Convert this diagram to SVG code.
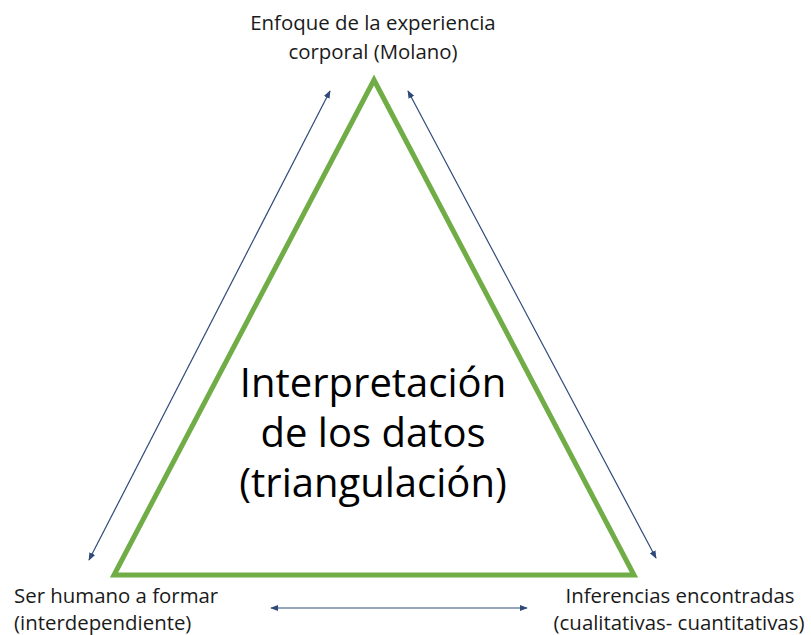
<svg xmlns="http://www.w3.org/2000/svg" width="811" height="635" viewBox="0 0 811 635">
<style>
.lbl{font-family:"Open Sans","Liberation Sans",sans-serif;font-size:20.4px;fill:#1a1a1a}
.big{font-family:"Open Sans","Liberation Sans",sans-serif;font-size:40px;fill:#000}
.arr{stroke:#2F4A7A;stroke-width:1.2;fill:none;marker-start:url(#ah);marker-end:url(#ah)}
</style>
<defs>
<marker id="ah" viewBox="0 0 10 10" refX="9" refY="5" markerWidth="8" markerHeight="8" orient="auto-start-reverse" markerUnits="userSpaceOnUse">
<path d="M0,1 L10,5 L0,9 z" fill="#2F4A7A"/>
</marker>
</defs>
<rect width="811" height="635" fill="#fff"/>
<g id="triangle">
<polygon points="374,80 114,575 634,575" fill="none" stroke="#70AD47" stroke-width="5"/>
<text class="big" text-anchor="middle" x="373" y="397">Interpretación</text>
<text class="big" text-anchor="middle" x="373" y="447">de los datos</text>
<text class="big" text-anchor="middle" x="373" y="497">(triangulación)</text>
</g>
<g id="top">
<text class="lbl" text-anchor="middle" x="373" y="30">Enfoque de la experiencia</text>
<text class="lbl" text-anchor="middle" x="373" y="59">corporal (Molano)</text>
</g>
<g id="left">
<text class="lbl" x="14" y="603">Ser humano a formar</text>
<text class="lbl" x="14" y="630">(interdependiente)</text>
</g>
<g id="right">
<text class="lbl" text-anchor="middle" x="680" y="603">Inferencias encontradas</text>
<text class="lbl" text-anchor="middle" x="679" y="630">(cualitativas- cuantitativas)</text>
</g>
<g id="connectors">
<line class="arr" x1="89" y1="560" x2="330" y2="91"/>
<line class="arr" x1="408" y1="91" x2="656" y2="558"/>
<line class="arr" x1="271" y1="608" x2="527" y2="608"/>
</g>
</svg>
